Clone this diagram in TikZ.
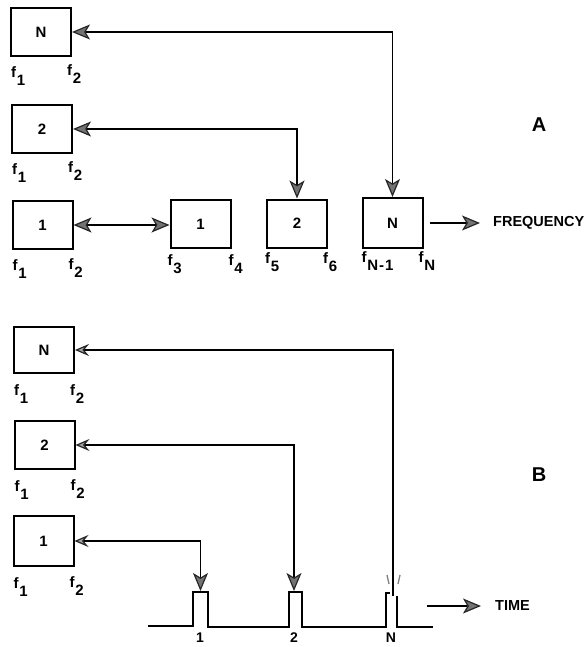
\documentclass[tikz,border=0pt]{standalone}
\usepackage{fontspec}
\setmainfont{Liberation Sans}
\usetikzlibrary{arrows.meta}
\newcommand{\ff}[1]{f\kern0.6pt\raisebox{-8pt}{#1}}
\tikzset{
  box/.style={draw, line width=2pt, minimum width=60pt, minimum height=48pt, inner sep=0pt,
              font=\fontsize{15}{15}\selectfont\bfseries},
  flab/.style={anchor=north west, inner sep=0pt, font=\fontsize{15}{15}\selectfont\bfseries},
  big/.style={inner sep=0pt, font=\fontsize{20}{20}\selectfont\bfseries},
  word/.style={inner sep=0pt, anchor=west, font=\fontsize{14.5}{14.5}\selectfont\bfseries},
  plab/.style={inner sep=0pt, font=\fontsize{14}{14}\selectfont\bfseries},
  conn/.style={line width=1.6pt},
  pulse/.style={line width=1.9pt},
  Gt/.tip={Stealth[length=18pt 0,width=15pt 0,inset=4.5pt 0,fill=black!55,color=black!85,line width=1.2pt]},
  Ot/.tip={Stealth[length=14pt 0,width=12pt 0,inset=5pt 0,fill=black!35,color=black!85,line width=1.2pt]},
}
\begin{document}
\begin{tikzpicture}[x=1pt,y=-1pt]
\useasboundingbox (0,0) rectangle (587,647);
% ---------------- Part A ----------------
\node[box] (aN) at (41,32) {N};
\node[box] (a2) at (42,129) {2};
\node[box] (a1) at (42.5,225) {1};
\node[box] (m1) at (200.5,224) {1};
\node[box] (m2) at (297,223.5) {2};
\node[box, minimum height=50pt] (mN) at (392.5,223) {N};

\node[flab] (aNf1) at ([xshift=1pt,yshift=-9pt]aN.south west) {\ff{1}};
\node[flab] (aNf2) at ([xshift=-5pt,yshift=-7pt]aN.south east) {\ff{2}};
\node[flab] (a2f1) at ([xshift=1pt,yshift=-9pt]a2.south west) {\ff{1}};
\node[flab] (a2f2) at ([xshift=-5pt,yshift=-7pt]a2.south east) {\ff{2}};
\node[flab] (a1f1) at ([xshift=1pt,yshift=-9pt]a1.south west) {\ff{1}};
\node[flab] (a1f2) at ([xshift=-5pt,yshift=-8pt]a1.south east) {\ff{2}};
\node[flab] (m1f3) at ([xshift=-2pt,yshift=-5pt]m1.south west) {\ff{3}};
\node[flab] (m1f4) at ([xshift=-3pt,yshift=-5pt]m1.south east) {\ff{4}};
\node[flab] (m2f5) at ([xshift=-1pt,yshift=-4pt]m2.south west) {\ff{5}};
\node[flab] (m2f6) at ([xshift=-5pt,yshift=-4pt]m2.south east) {\ff{6}};
\node[flab] (mNf1) at ([xshift=0pt,yshift=-2pt]mN.south west) {\ff{N\kern1pt-\kern1pt1}};
\node[flab] (mNf2) at ([xshift=-5pt,yshift=-2pt]mN.south east) {\ff{N}};

\draw[conn,{Gt}-{Gt}] (aN.east) -| (mN.north);
\draw[conn,{Gt}-{Gt}] (a2.east) -| (m2.north);
\draw[conn,{Gt}-{Gt}] (a1.east) -- (a1.east -| m1.west);

\node[word] (freq) at (493,223) {FREQUENCY};
\draw[conn,-{Gt}] ([xshift=6pt]mN.east) -- ([xshift=-13pt]freq.west);

\node[big] (labA) at (539,125) {A};
\node[big] (labB) at (539,475) {B};

% ---------------- Part B ----------------
\node[box, minimum height=46pt] (bN) at (44,350) {N};
\node[box] (b2) at (44.5,445) {2};
\node[box, minimum height=50pt] (b1) at (43.5,541) {1};

\node[flab] (bNf1) at ([xshift=1pt,yshift=-10pt]bN.south west) {\ff{1}};
\node[flab] (bNf2) at ([xshift=-5pt,yshift=-10pt]bN.south east) {\ff{2}};
\node[flab] (b2f1) at ([xshift=1pt,yshift=-10pt]b2.south west) {\ff{1}};
\node[flab] (b2f2) at ([xshift=-5pt,yshift=-9pt]b2.south east) {\ff{2}};
\node[flab] (b1f1) at ([xshift=1pt,yshift=-10pt]b1.south west) {\ff{1}};
\node[flab] (b1f2) at ([xshift=-5pt,yshift=-9pt]b1.south east) {\ff{2}};

% pulse train
\draw[pulse] (148,626) -- (193,626) -- (193,592) -- (208,592) -- (208,627)
  -- (289,627) -- (289,592) -- (302,592) -- (302,627) -- (386,627) -- (386,593) -- (390,593);
\draw[pulse] (397,596) -- (397,627) -- (433,627);
\coordinate (p1) at (200.5,591);
\coordinate (p2) at (294,591);
\coordinate (pN) at (393,596);

\draw[conn,{Ot}-{Gt}] (b1.east) -| (p1);
\draw[conn,{Ot}-{Gt}] (b2.east) -| (p2);
\draw[conn,{Ot}-] (bN.east) -| (pN);
\draw[gray, line width=1.3pt] (387,575) -- (389,584) (400,575) -- (398,584);

\node[plab] (t1) at (200,638) {1};
\node[plab] (t2) at (294,638) {2};
\node[plab] (tN) at (391,638) {N};

\node[word] (time) at (495,606) {TIME};
\draw[conn,-{Gt}] (427,606) -- ([xshift=-14pt]time.west);
\end{tikzpicture}
\end{document}
